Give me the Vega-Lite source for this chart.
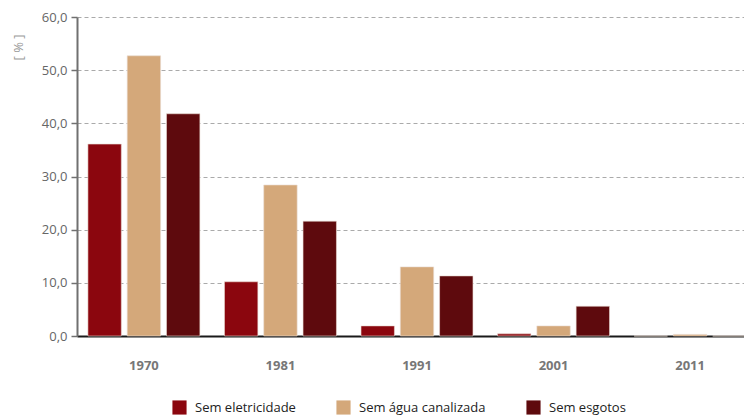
{
  "$schema": "https://vega.github.io/schema/vega-lite/v6.json",
  "width": 680,
  "height": 319,
  "autosize": {"type": "none"},
  "padding": {"left": 77, "top": 17, "right": 0, "bottom": 79},
  "background": "white",
  "config": {
    "font": "Open Sans",
    "view": {"stroke": null}
  },
  "data": {
    "values": [
      {"ano": "1970", "serie": "Sem eletricidade", "valor": 36.1},
      {"ano": "1970", "serie": "Sem água canalizada", "valor": 52.7},
      {"ano": "1970", "serie": "Sem esgotos", "valor": 41.8},
      {"ano": "1981", "serie": "Sem eletricidade", "valor": 10.2},
      {"ano": "1981", "serie": "Sem água canalizada", "valor": 28.4},
      {"ano": "1981", "serie": "Sem esgotos", "valor": 21.6},
      {"ano": "1991", "serie": "Sem eletricidade", "valor": 1.9},
      {"ano": "1991", "serie": "Sem água canalizada", "valor": 13.0},
      {"ano": "1991", "serie": "Sem esgotos", "valor": 11.3},
      {"ano": "2001", "serie": "Sem eletricidade", "valor": 0.4},
      {"ano": "2001", "serie": "Sem água canalizada", "valor": 1.9},
      {"ano": "2001", "serie": "Sem esgotos", "valor": 5.6},
      {"ano": "2011", "serie": "Sem eletricidade", "valor": 0.0},
      {"ano": "2011", "serie": "Sem água canalizada", "valor": 0.3},
      {"ano": "2011", "serie": "Sem esgotos", "valor": 0.0}
    ]
  },
  "mark": {"type": "bar", "stroke": "#eadcd4", "strokeWidth": 0.6},
  "encoding": {
    "x": {
      "field": "ano",
      "type": "nominal",
      "scale": {"paddingInner": 0.18, "paddingOuter": 0.08},
      "axis": {
        "title": null,
        "labelAngle": 0,
        "labelFontWeight": "bold",
        "labelColor": "#777777",
        "labelFontSize": 13,
        "labelPadding": 23,
        "ticks": false,
        "domainColor": "#1a1a1a",
        "domainWidth": 2
      }
    },
    "xOffset": {
      "field": "serie",
      "type": "nominal",
      "sort": ["Sem eletricidade", "Sem água canalizada", "Sem esgotos"],
      "scale": {"paddingInner": 0.15, "paddingOuter": 0}
    },
    "y": {
      "field": "valor",
      "type": "quantitative",
      "scale": {"domain": [0, 60]},
      "axis": {
        "title": "[ % ]",
        "titleColor": "#999999",
        "titleFontWeight": "normal",
        "titleFontSize": 13,
        "titleX": -59,
        "titleY": 30,
        "titleAlign": "center",
        "titleBaseline": "middle",
        "values": [0, 10, 20, 30, 40, 50, 60],
        "labelExpr": "replace(format(datum.value, '.1f'), '.', ',')",
        "labelColor": "#666666",
        "labelFontSize": 13,
        "labelPadding": 4,
        "domainColor": "#707070",
        "domainWidth": 2,
        "tickColor": "#707070",
        "tickSize": 6,
        "tickWidth": 1.5,
        "grid": true,
        "gridColor": "#aaaaaa",
        "gridDash": [4, 3],
        "gridWidth": 1
      }
    },
    "color": {
      "field": "serie",
      "type": "nominal",
      "sort": ["Sem eletricidade", "Sem água canalizada", "Sem esgotos"],
      "scale": {
        "domain": ["Sem eletricidade", "Sem água canalizada", "Sem esgotos"],
        "range": ["#8B060E", "#D4A87A", "#5E0A0D"]
      },
      "legend": {
        "title": null,
        "orient": "none",
        "direction": "horizontal",
        "legendX": 95,
        "legendY": 383,
        "symbolType": "square",
        "symbolSize": 200,
        "symbolStrokeWidth": 0,
        "labelFontSize": 13,
        "labelColor": "#222222",
        "labelOffset": 8,
        "columnPadding": 40,
        "gridAlign": "none"
      }
    }
  }
}
